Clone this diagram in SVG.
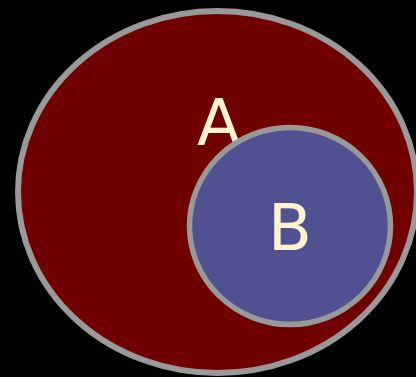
<svg xmlns="http://www.w3.org/2000/svg" width="416" height="377" viewBox="0 0 416 377">
<style>
.set{stroke:#999999}
.lbl{font-family:"DejaVu Sans",sans-serif;font-size:64px;fill:#fff2cc;text-anchor:middle}
</style>
<rect width="416" height="377" fill="#000000"/>
<g id="A">
<ellipse class="set" cx="217.5" cy="192" rx="199.5" ry="181" fill="#700000" stroke-width="6"/>
<text class="lbl" x="219" y="145">A</text>
</g>
<g id="B">
<ellipse class="set" cx="290" cy="226" rx="100.5" ry="98.5" fill="#4f5190" stroke-width="5.5"/>
<text class="lbl" x="290" y="250">B</text>
</g>
<g id="connectors"/>
</svg>
